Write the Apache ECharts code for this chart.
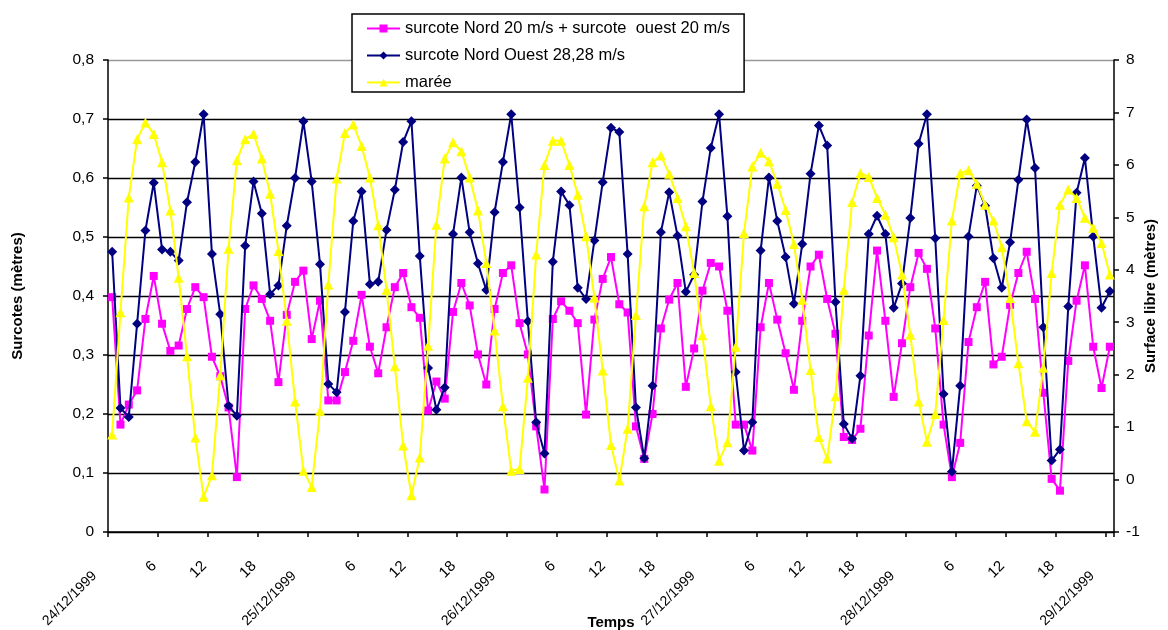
<!DOCTYPE html>
<html><head><meta charset="utf-8">
<script src="https://cdn.jsdelivr.net/npm/echarts@6/dist/echarts.min.js"></script>
<style>html,body{margin:0;padding:0;background:#fff}#c{width:1168px;height:630px}</style>
</head><body><div id="c"></div>
<script>
const dayLabels = ['24/12/1999','25/12/1999','26/12/1999','27/12/1999','28/12/1999','29/12/1999'];
const hourLabels = {6:'6', 12:'12', 18:'18'};
const hoursCount = 121;

const surcoteNordPlusOuest = [
0.398,0.182,0.216,0.240,0.361,0.434,0.353,0.307,0.316,0.378,0.415,0.398,0.297,0.264,0.211,0.093,0.378,0.418,0.395,0.358,
0.254,0.368,0.424,0.443,0.327,0.392,0.223,0.223,0.271,0.324,0.402,0.314,0.269,0.347,0.415,0.439,0.381,0.363,0.206,0.255,
0.226,0.373,0.422,0.384,0.301,0.250,0.378,0.439,0.452,0.354,0.301,0.179,0.072,0.361,0.391,0.375,0.354,0.199,0.360,0.429,
0.466,0.386,0.372,0.179,0.124,0.200,0.345,0.394,0.422,0.246,0.311,0.409,0.456,0.450,0.375,0.182,0.182,0.138,0.347,0.422,
0.360,0.303,0.241,0.358,0.450,0.470,0.395,0.336,0.161,0.156,0.175,0.333,0.477,0.358,0.229,0.320,0.415,0.473,0.446,0.345,
0.182,0.093,0.151,0.322,0.381,0.424,0.284,0.297,0.385,0.439,0.475,0.395,0.236,0.090,0.070,0.290,0.392,0.452,0.314,0.244,
0.314];

const surcoteNordOuest = [
0.475,0.210,0.195,0.353,0.511,0.592,0.479,0.475,0.460,0.559,0.627,0.708,0.471,0.369,0.214,0.197,0.485,0.594,0.540,0.403,
0.418,0.519,0.600,0.696,0.594,0.454,0.251,0.237,0.373,0.527,0.577,0.420,0.424,0.512,0.580,0.661,0.696,0.468,0.278,0.207,
0.245,0.505,0.601,0.508,0.455,0.410,0.542,0.627,0.708,0.550,0.357,0.186,0.133,0.458,0.577,0.554,0.414,0.395,0.494,0.593,
0.685,0.678,0.471,0.211,0.125,0.248,0.508,0.576,0.502,0.407,0.436,0.560,0.651,0.708,0.535,0.271,0.138,0.186,0.477,0.601,
0.527,0.466,0.387,0.488,0.607,0.689,0.655,0.390,0.183,0.158,0.265,0.505,0.536,0.505,0.380,0.421,0.532,0.658,0.708,0.498,
0.234,0.102,0.248,0.501,0.587,0.553,0.464,0.414,0.491,0.597,0.699,0.617,0.347,0.121,0.140,0.382,0.575,0.634,0.501,0.380,
0.408];

const maree = [
0.86,3.19,5.38,6.49,6.81,6.59,6.05,5.13,3.85,2.35,0.80,-0.33,0.08,1.99,4.40,6.09,6.49,6.59,6.12,5.45,
4.36,3.03,1.49,0.17,-0.14,1.31,3.72,5.74,6.61,6.77,6.36,5.76,4.85,3.62,2.16,0.65,-0.30,0.42,2.55,4.86,
6.12,6.43,6.26,5.76,5.13,4.13,2.84,1.40,0.17,0.20,1.94,4.29,6.00,6.46,6.46,6.00,5.43,4.64,3.47,2.08,
0.66,-0.02,0.97,3.14,5.21,6.05,6.18,5.83,5.37,4.83,3.94,2.75,1.40,0.36,0.71,2.53,4.70,5.97,6.23,6.07,
5.64,5.14,4.49,3.43,2.09,0.81,0.40,1.59,3.62,5.29,5.84,5.77,5.37,5.05,4.62,3.91,2.76,1.49,0.72,1.25,
3.04,4.94,5.84,5.90,5.64,5.24,4.94,4.43,3.46,2.22,1.11,0.91,2.13,3.94,5.24,5.53,5.37,4.99,4.80,4.51,
3.91];

const categories = [];
for (let i = 0; i < hoursCount; i++) {
  categories.push(dayLabels[Math.floor(i / 24)] + ' ' + (i % 24) + 'h');
}
function labelFor(idx) {
  const h = idx % 24;
  if (h === 0) return '{d|' + dayLabels[Math.floor(idx / 24)] + '}';
  return hourLabels[h] ? '{h|' + hourLabels[h] + '}' : '';
}

const FONT = '"Liberation Sans", Arial, sans-serif';
const chart = echarts.init(document.getElementById('c'), null, {renderer: 'canvas'});
chart.setOption({
  animation: false,
  backgroundColor: '#fff',
  textStyle: {fontFamily: FONT, color: '#000'},
  grid: {left: 108, right: 54, top: 60, bottom: 98, containLabel: false, outerBoundsMode: 'none'},
  legend: {
    orient: 'vertical', left: 352, top: 14,
    padding: [6, 14, 1, 14], itemGap: 10, itemWidth: 33, itemHeight: 10,
    backgroundColor: '#fff', borderColor: '#000', borderWidth: 1.5, borderRadius: 0,
    textStyle: {fontFamily: FONT, fontSize: 16.5, color: '#000'},
    data: ['surcote Nord 20 m/s + surcote  ouest 20 m/s', 'surcote Nord Ouest 28,28 m/s', 'marée']
  },
  xAxis: {
    type: 'category', boundaryGap: true, data: categories,
    name: 'Temps', nameLocation: 'middle', nameGap: 83, nameMoveOverlap: false,
    nameTextStyle: {fontFamily: FONT, fontWeight: 'bold', fontSize: 15, color: '#000'},
    axisLine: {show: true, lineStyle: {color: '#000', width: 1.5}},
    axisTick: {show: true, interval: 5, length: 5, lineStyle: {color: '#000', width: 1.5}},
    axisLabel: {interval: 5, rotate: 45, margin: 24, fontSize: 14, color: '#000', fontFamily: FONT,
      formatter: function (v, idx) { return labelFor(idx); },
      rich: {
        d: {fontSize: 14, fontFamily: FONT, color: '#000', padding: [0, 25, 0, 0]},
        h: {fontSize: 15, fontFamily: FONT, color: '#000', padding: [0, 11, 0, 0]}
      }},
    splitLine: {show: false}
  },
  yAxis: [{
    type: 'value', min: 0, max: 0.8, interval: 0.1, position: 'left',
    name: 'Surcotes (mètres)', nameLocation: 'middle', nameRotate: 90, nameGap: 83, nameMoveOverlap: false,
    nameTextStyle: {fontFamily: FONT, fontWeight: 'bold', fontSize: 15, color: '#000'},
    axisLine: {show: true, lineStyle: {color: '#000', width: 1.5}},
    axisTick: {show: true, length: 5, lineStyle: {color: '#000', width: 1.5}},
    axisLabel: {fontSize: 15.5, color: '#000', fontFamily: FONT, margin: 14,
      formatter: function (v) { return v === 0 ? '0' : v.toFixed(1).replace('.', ','); }},
    splitLine: {show: true, lineStyle: {color: ['#000','#000','#000','#000','#000','#000','#000','#000','#999'], width: 1.3}}
  }, {
    type: 'value', min: -1, max: 8, interval: 1, position: 'right',
    name: 'Surface libre (mètres)', nameLocation: 'middle', nameRotate: 90, nameGap: 29, nameMoveOverlap: false,
    nameTextStyle: {fontFamily: FONT, fontWeight: 'bold', fontSize: 15, color: '#000'},
    axisLine: {show: true, lineStyle: {color: '#000', width: 1.5}},
    axisTick: {show: true, length: 5, lineStyle: {color: '#000', width: 1.5}},
    axisLabel: {fontSize: 15.5, color: '#000', fontFamily: FONT, margin: 12},
    splitLine: {show: false}
  }],
  series: [{
    name: 'surcote Nord 20 m/s + surcote  ouest 20 m/s', type: 'line', yAxisIndex: 0,
    data: surcoteNordPlusOuest, symbol: 'rect', symbolSize: 8, showAllSymbol: true, z: 2,
    lineStyle: {color: '#FF00FF', width: 2}, itemStyle: {color: '#FF00FF'}
  }, {
    name: 'surcote Nord Ouest 28,28 m/s', type: 'line', yAxisIndex: 0,
    data: surcoteNordOuest, symbol: 'diamond', symbolSize: 10, showAllSymbol: true, z: 3,
    lineStyle: {color: '#000080', width: 2}, itemStyle: {color: '#000080'}
  }, {
    name: 'marée', type: 'line', yAxisIndex: 1,
    data: maree, symbol: 'triangle', symbolSize: 10, showAllSymbol: true, z: 4,
    lineStyle: {color: '#FFFF00', width: 2}, itemStyle: {color: '#FFFF00'}
  }]
});
</script>
</body></html>
